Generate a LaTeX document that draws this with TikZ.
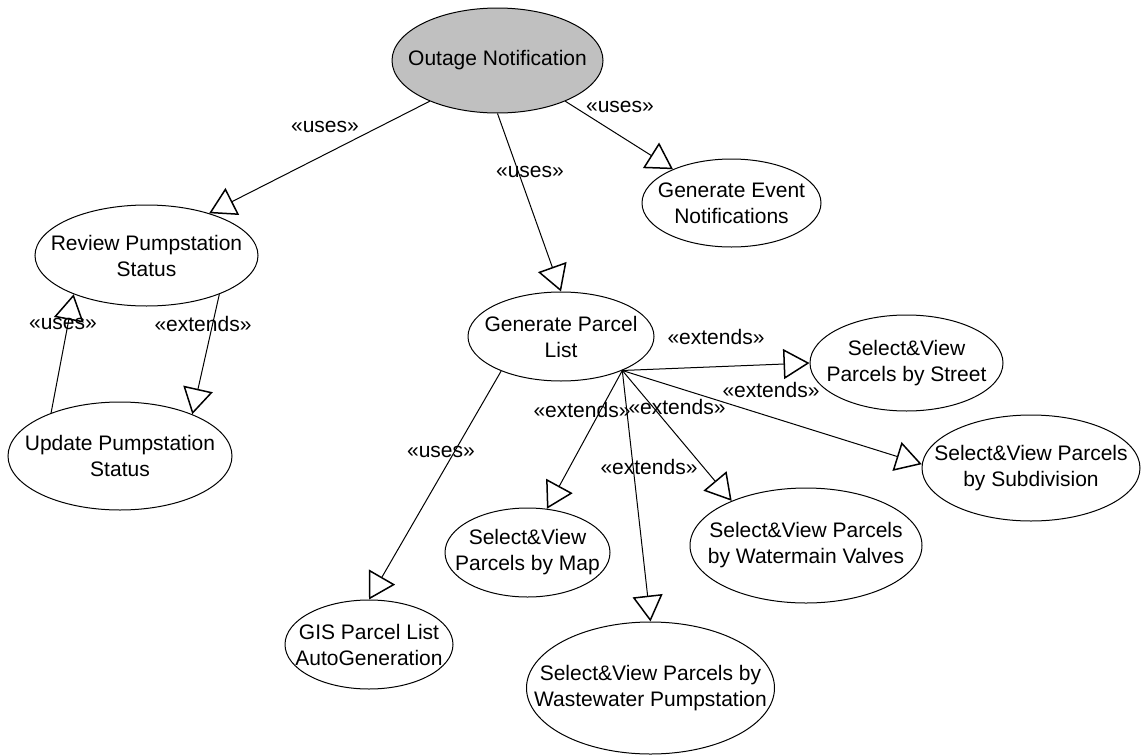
\documentclass[tikz,border=0pt]{standalone}
\usepackage{fontspec}
\setmainfont{Liberation Sans}
\usetikzlibrary{arrows.meta,shapes.geometric}
\definecolor{outfill}{RGB}{192,192,192}
\begin{document}
\begin{tikzpicture}[x=1pt,y=-1pt,
 uc/.style 2 args={draw, ellipse, line width=1pt, inner sep=0pt, minimum width=#1pt, minimum height=#2pt},
 txt/.style={align=center, inner sep=0pt, font=\fontsize{21}{26}\selectfont},
 lbl/.style={inner sep=0pt, font=\fontsize{21}{26}\selectfont},
 rel/.style={line width=1pt, -{Triangle[open,length=26pt,width=30pt,line width=1.5pt]}}]
\useasboundingbox (0,0) rectangle (1141,755);
% use cases
\node[uc={211}{105}, fill=outfill, label={[txt]center:Outage Notification}] (outage) at (497.5,60.5) {};
\node[uc={179}{88}, label={[txt]center:Generate Event\\Notifications}] (event) at (731.5,203) {};
\node[uc={223}{101}, label={[txt]center:Review Pumpstation\\Status}] (review) at (146.5,255.5) {};
\node[uc={224}{108}, label={[txt]center:Update Pumpstation\\Status}] (update) at (120,456) {};
\node[uc={186}{89}, label={[txt]center:Generate Parcel\\List}] (gpl) at (561,336.5) {};
\node[uc={193}{96}, label={[txt]center:Select\&View\\Parcels by Street}] (street) at (906.5,363) {};
\node[uc={218}{106}, label={[txt]center:Select\&View Parcels\\by Subdivision}] (subdiv) at (1031,468) {};
\node[uc={165}{89}, label={[txt]center:Select\&View\\Parcels by Map}] (map) at (527.5,552.5) {};
\node[uc={232}{115}, label={[txt]center:Select\&View Parcels\\by Watermain Valves}] (water) at (806,545.5) {};
\node[uc={168}{89}, label={[txt]center:GIS Parcel List\\AutoGeneration}] (gis) at (369,644.5) {};
\node[uc={248}{132}, label={[txt]center:Select\&View Parcels by\\Wastewater Pumpstation}] (waste) at (650.5,688) {};
% connectors
\draw[rel] (outage.211) -- (review.34);
\draw[rel] (outage.south) -- (gpl.north);
\draw[rel] (outage.-31) -- (event.150);
\draw[rel] (update.148) -- (review.208);
\draw[rel] (review.-28) -- (update.30);
\coordinate (hub) at (gpl.-29);
\draw[rel] (gpl.210) -- (gis.north);
\draw[rel] (hub) -- (street.west);
\draw[rel] (hub) -- (subdiv.178);
\draw[rel] (hub) -- (map.66);
\draw[rel] (hub) -- (water.149);
\draw[rel] (hub) -- (waste.north);
% labels
\node[lbl] (l1) at (325,127) {«uses»};
\node[lbl] (l2) at (530,172) {«uses»};
\node[lbl] (l3) at (620,107) {«uses»};
\node[lbl] (l4) at (63,324) {«uses»};
\node[lbl] (l5) at (203,324) {«extends»};
\node[lbl] (l6) at (441,452) {«uses»};
\node[lbl] (l7) at (716,337) {«extends»};
\node[lbl] (l8) at (771,390) {«extends»};
\node[lbl] (l9) at (582,410) {«extends»};
\node[lbl] (l10) at (677,407) {«extends»};
\node[lbl] (l11) at (649,467) {«extends»};
\end{tikzpicture}
\end{document}
